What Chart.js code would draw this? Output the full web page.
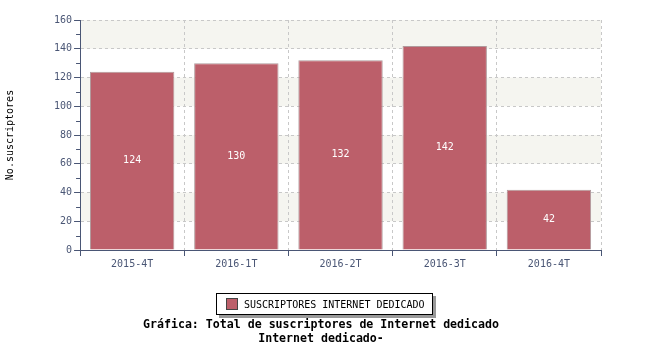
<!DOCTYPE html>
<html>
<head>
<meta charset="utf-8">
<script src="https://cdn.jsdelivr.net/npm/chart.js@4.4.0/dist/chart.umd.min.js"></script>
<style>
  body { margin: 0; background: #fff; }
  #wrap { position: relative; width: 650px; height: 350px; }
  #legend {
    position: absolute; left: 216px; top: 293px; width: 215px; height: 20px;
    border: 1px solid #000; background: #fff; box-shadow: 3px 3px 0 #999;
    font: 10px "DejaVu Sans Mono", monospace; color: #000; white-space: nowrap;
    display: flex; align-items: center;
  }
  #legend span.sw { display: inline-block; width: 10px; height: 10px; background: #bc5f6a;
    border: 1px solid #444; margin: 0 6px 0 9px; }
  #title {
    position: absolute; left: 0; width: 642px; top: 317px; text-align: center;
    font: bold 11.6px "DejaVu Sans Mono", monospace; color: #000; line-height: 14px;
  }
</style>
</head>
<body>
<div id="wrap">
  <canvas id="myChart" width="650" height="350"></canvas>
  <div id="legend"><span class="sw"></span>SUSCRIPTORES INTERNET DEDICADO</div>
  <div id="title">Gráfica: Total de suscriptores de Internet dedicado<br>Internet dedicado-</div>
</div>
<script>
const periodos = ["2015-4T", "2016-1T", "2016-2T", "2016-3T", "2016-4T"];
const suscriptores = [124, 130, 132, 142, 42];
const yTicks = [0, 20, 40, 60, 80, 100, 120, 140, 160];
const bandas = [[20, 40], [60, 80], [100, 120], [140, 160]];

const axisColor = "#4a5675";
const gridColor = "#c8c8c8";

// bands must sit under the grid, so paint them before the scales
const bandsUnder = {
    id: "bandsUnder",
    beforeDraw(chart) {
        const ctx = chart.ctx;
        const area = chart.chartArea;
        const y = chart.scales.y;
        ctx.save();
        ctx.fillStyle = "#f5f5f0";
        bandas.forEach(function (b) {
            const top = y.getPixelForValue(b[1]);
            const bot = y.getPixelForValue(b[0]);
            ctx.fillRect(area.left, top, area.right - area.left, bot - top);
        });
        ctx.restore();
    }
};

const minorTicks = {
    id: "minorTicks",
    afterDraw(chart) {
        const ctx = chart.ctx;
        const y = chart.scales.y;
        const left = chart.chartArea.left;
        ctx.save();
        ctx.strokeStyle = axisColor;
        ctx.lineWidth = 1;
        for (let i = 0; i < yTicks.length - 1; i++) {
            const v = (yTicks[i] + yTicks[i + 1]) / 2;
            const py = Math.round(y.getPixelForValue(v)) + 0.5;
            ctx.beginPath();
            ctx.moveTo(left - 4, py);
            ctx.lineTo(left, py);
            ctx.stroke();
        }
        ctx.restore();
    }
};

const valueLabels = {
    id: "valueLabels",
    afterDatasetsDraw(chart) {
        const ctx = chart.ctx;
        const meta = chart.getDatasetMeta(0);
        ctx.save();
        ctx.fillStyle = "#ffffff";
        ctx.font = '10px "DejaVu Sans Mono", monospace';
        ctx.textAlign = "center";
        ctx.textBaseline = "middle";
        meta.data.forEach(function (bar, i) {
            ctx.fillText(String(suscriptores[i]), bar.x, (bar.y + bar.base) / 2);
        });
        ctx.restore();
    }
};

const ctx = document.getElementById("myChart").getContext("2d");
const chart = new Chart(ctx, {
    type: "bar",
    data: {
        labels: periodos,
        datasets: [{
            label: "SUSCRIPTORES INTERNET DEDICADO",
            data: suscriptores,
            backgroundColor: "#bc5f6a",
            borderColor: "#b09a9c",
            borderWidth: 1,
            categoryPercentage: 0.81,
            barPercentage: 1.0
        }]
    },
    plugins: [bandsUnder, minorTicks, valueLabels],
    options: {
        responsive: false,
        animation: false,
        layout: { padding: { top: 20, right: 49, bottom: 78, left: 4 } },
        plugins: {
            legend: { display: false },
            tooltip: { enabled: false }
        },
        scales: {
            x: {
                offset: true,
                grid: {
                    offset: true,
                    color: gridColor,
                    tickColor: axisColor,
                    tickLength: 6,
                    tickBorderDash: []
                },
                border: { color: axisColor, width: 1, dash: [3, 3] },
                ticks: {
                    color: axisColor,
                    padding: 2,
                    font: { family: "DejaVu Sans Mono", size: 10 }
                }
            },
            y: {
                min: 0,
                max: 160,
                afterBuildTicks: function (scale) {
                    scale.ticks = yTicks.map(function (v) { return { value: v }; });
                },
                grid: {
                    color: gridColor,
                    tickColor: axisColor,
                    tickLength: 6,
                    tickBorderDash: []
                },
                border: { color: axisColor, width: 1, dash: [3, 3] },
                title: {
                    display: true,
                    text: "No.suscriptores",
                    color: "#000",
                    padding: { top: 0, bottom: 36 },
                    font: { family: "DejaVu Sans Mono", size: 10 }
                },
                ticks: {
                    color: axisColor,
                    padding: 2,
                    font: { family: "DejaVu Sans Mono", size: 10 }
                }
            }
        }
    }
});
</script>
</body>
</html>
